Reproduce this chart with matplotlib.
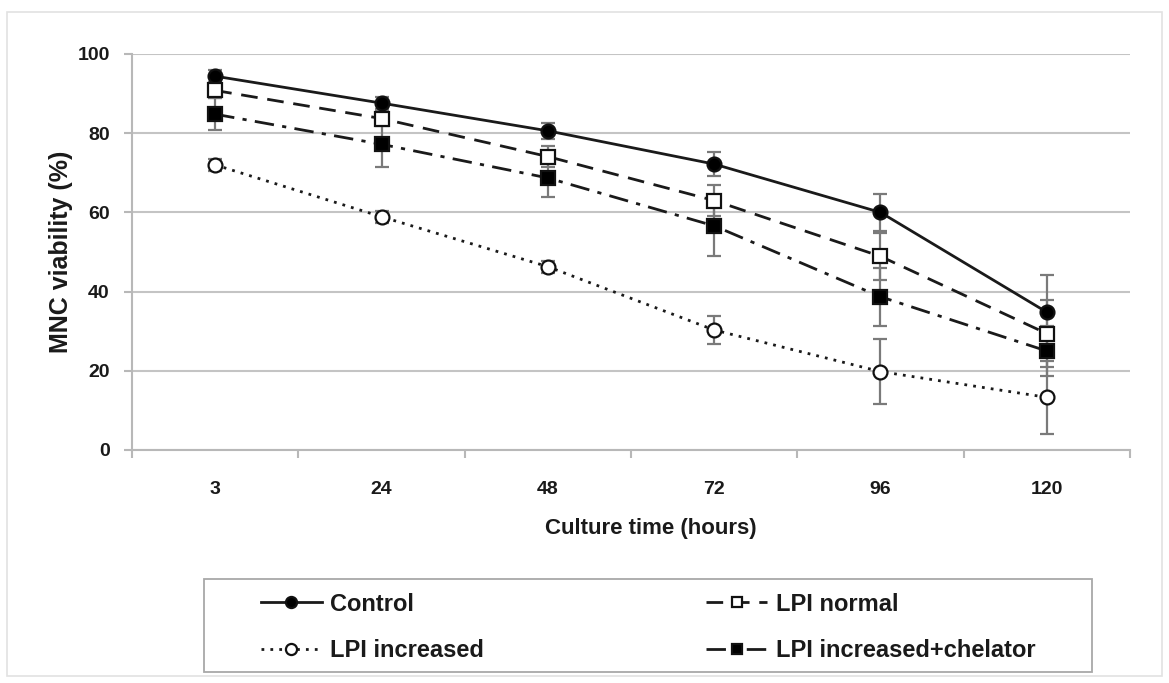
import matplotlib
matplotlib.use('Agg')
import matplotlib.pyplot as plt
from matplotlib.patches import Rectangle
import numpy as np

plt.rcParams['font.family'] = ['Liberation Sans', 'DejaVu Sans']
plt.rcParams['font.weight'] = 'bold'

# ── Data ──────────────────────────────────────────────────────────────────────
hours = ['3', '24', '48', '72', '96', '120']

control      = [94.4, 87.6, 80.6, 72.2, 60.0, 34.8]
control_err  = [1.5, 1.5, 2.0, 3.0, 4.7, 9.4]
lpi_normal   = [90.8, 83.7, 74.1, 63.0, 48.9, 29.4]
normal_err   = [2.0, 2.0, 2.7, 3.8, 6.0, 8.5]
lpi_inc      = [72.0, 58.9, 46.3, 30.3, 19.8, 13.3]
inc_err      = [1.5, 1.5, 1.5, 3.6, 8.2, 9.3]
lpi_chel     = [84.8, 77.2, 68.7, 56.6, 38.7, 25.0]
chel_err     = [4.0, 5.7, 4.9, 7.7, 7.3, 6.2]

y_ticks = [0, 20, 40, 60, 80, 100]

W, H = 1169, 683

# ── Figure ────────────────────────────────────────────────────────────────────
fig = plt.figure(figsize=(W / 100, H / 100), dpi=100)
ax = fig.add_axes([132 / W, 1 - 450 / H, (1130 - 132) / W, (450 - 54) / H])

# faint frame round the whole figure
fig.patches.append(Rectangle((7 / W, 1 - 676 / H), 1155 / W, 664 / H,
                             transform=fig.transFigure, fill=False,
                             edgecolor='#e2e2e2', linewidth=1.2))

x = np.arange(len(hours))
ERR_COLOR = '#7a7a7a'

series = [
    ('Control',                 control,    control_err, dict(ls='-',  marker='o', mfc='black', ms=10)),
    ('LPI increased',           lpi_inc,    inc_err,     dict(ls=(0, (1, 2.2)), marker='o', mfc='white', ms=10)),
    ('LPI normal',              lpi_normal, normal_err,  dict(ls=(0, (6, 3.5)), marker='s', mfc='white', ms=9.5)),
    ('LPI increased+chelator',  lpi_chel,   chel_err,    dict(ls=(0, (7, 3, 1.5, 3)), marker='s', mfc='black', ms=9.5)),
]

# error bars first so the markers sit on top of them
for name, vals, err, st in series:
    ax.errorbar(x, vals, yerr=err, fmt='none', ecolor=ERR_COLOR,
                elinewidth=1.6, capsize=5, capthick=1.6, zorder=2)

handles = []
for name, vals, err, st in series:
    h, = ax.plot(x, vals, color='#1a1a1a', lw=2.0, linestyle=st['ls'],
                 marker=st['marker'], markerfacecolor=st['mfc'],
                 markeredgecolor='#111111', markeredgewidth=1.6,
                 markersize=st['ms'], label=name, zorder=3)
    handles.append(h)

# ── Axes styling ──────────────────────────────────────────────────────────────
ax.set_xlim(-0.5, len(hours) - 0.5)
ax.set_ylim(0, 100)
ax.set_yticks(y_ticks)
ax.set_xticks(x)
ax.set_xticklabels(hours)
ax.set_xticks(np.arange(-0.5, len(hours), 1.0), minor=True)

ax.yaxis.grid(True, color='#c4c4c4', linewidth=1.5)
ax.set_axisbelow(True)
for side in ('top', 'right'):
    ax.spines[side].set_visible(False)
for side in ('left', 'bottom'):
    ax.spines[side].set_color('#b8b8b8')
    ax.spines[side].set_linewidth(1.5)

ax.tick_params(axis='y', length=6, width=1.5, color='#b8b8b8',
               labelsize=14, labelcolor='#1a1a1a', pad=10)
ax.tick_params(axis='x', which='major', length=0, labelsize=14,
               labelcolor='#1a1a1a', pad=22)
ax.tick_params(axis='x', which='minor', length=6, width=1.5, color='#b8b8b8')

ax.set_ylabel('MNC viability (%)', fontsize=18, fontweight='bold',
              color='#1a1a1a', labelpad=3)
ax.set_xlabel('Culture time (hours)', fontsize=16, fontweight='bold',
              color='#1a1a1a', labelpad=15)
ax.xaxis.label.set_x(0.52)

# legend box drawn separately, entries centred inside it
box_l, box_r, box_t, box_b = 204, 1092, 579, 672
fig.patches.append(Rectangle((box_l / W, 1 - box_b / H), (box_r - box_l) / W,
                             (box_b - box_t) / H, transform=fig.transFigure,
                             fill=False, edgecolor='#a8a8a8', linewidth=1.3))
leg = fig.legend(handles=handles, ncol=2, loc='center',
                 bbox_to_anchor=((box_l + box_r) / 2 / W, 1 - (box_t + box_b + 4) / 2 / H),
                 fontsize=17, frameon=False,
                 handlelength=2.6, handletextpad=0.35, columnspacing=9.4,
                 labelspacing=1.0, markerscale=0.8, borderpad=0)
for t in leg.get_texts():
    t.set_color('#1a1a1a')

fig.savefig('out.png', dpi=100, facecolor='white')
